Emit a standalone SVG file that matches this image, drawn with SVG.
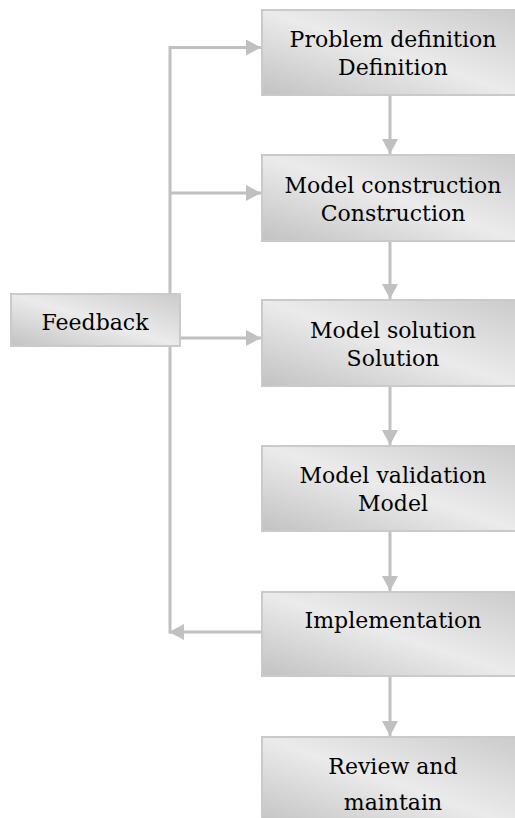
<svg xmlns="http://www.w3.org/2000/svg" width="515" height="818" viewBox="0 0 515 818">
<defs>
<linearGradient id="g" x1="0" y1="1" x2="1" y2="0">
<stop offset="0" stop-color="#c2c2c2"/>
<stop offset="0.5" stop-color="#ebebeb"/>
<stop offset="1" stop-color="#cbcbcb"/>
</linearGradient>
<marker id="ah" markerWidth="16" markerHeight="16" refX="15" refY="8" orient="auto" markerUnits="userSpaceOnUse">
<path d="M0,0 L15,8 L0,16 Z" fill="#c0c0c0"/>
</marker>
<style>
.box{fill:url(#g);stroke:#cacaca;stroke-width:2}
.t{font-family:"DejaVu Serif","Liberation Serif",serif;font-size:22px;fill:#000;text-anchor:middle}
.c{fill:none;stroke:#c0c0c0;stroke-width:3}
</style>
</defs>
<g id="connectors">
<line class="c" x1="390" y1="96" x2="390" y2="154" marker-end="url(#ah)"/>
<line class="c" x1="390" y1="242" x2="390" y2="299" marker-end="url(#ah)"/>
<line class="c" x1="390" y1="387" x2="390" y2="445" marker-end="url(#ah)"/>
<line class="c" x1="390" y1="532" x2="390" y2="591" marker-end="url(#ah)"/>
<line class="c" x1="390" y1="677" x2="390" y2="736" marker-end="url(#ah)"/>
<path class="c" d="M170,293 L170,47.5 L261,47.5" marker-end="url(#ah)"/>
<line class="c" x1="170" y1="193" x2="261" y2="193" marker-end="url(#ah)"/>
<line class="c" x1="181" y1="338" x2="261" y2="338" marker-end="url(#ah)"/>
<line class="c" x1="170" y1="347" x2="170" y2="633.5"/>
<line class="c" x1="262" y1="632" x2="169" y2="632" marker-end="url(#ah)"/>
</g>
<g id="problem">
<rect class="box" x="262" y="10" width="258" height="85"/>
<text class="t" x="393" y="47">Problem definition</text>
<text class="t" x="393" y="75">Definition</text>
</g>
<g id="construction">
<rect class="box" x="262" y="155" width="258" height="86"/>
<text class="t" x="393" y="192.5">Model construction</text>
<text class="t" x="393" y="220.5">Construction</text>
</g>
<g id="solution">
<rect class="box" x="262" y="300" width="258" height="86"/>
<text class="t" x="393" y="337.5">Model solution</text>
<text class="t" x="393" y="365.5">Solution</text>
</g>
<g id="validation">
<rect class="box" x="262" y="446" width="258" height="85"/>
<text class="t" x="393" y="483">Model validation</text>
<text class="t" x="393" y="511">Model</text>
</g>
<g id="implementation">
<rect class="box" x="262" y="592" width="258" height="84"/>
<text class="t" x="393" y="628">Implementation</text>
</g>
<g id="review">
<rect class="box" x="262" y="737" width="258" height="90"/>
<text class="t" x="393" y="774">Review and</text>
<text class="t" x="393" y="810">maintain</text>
</g>
<g id="feedback">
<rect class="box" x="11" y="294" width="169" height="52"/>
<text class="t" x="95" y="330">Feedback</text>
</g>
</svg>
